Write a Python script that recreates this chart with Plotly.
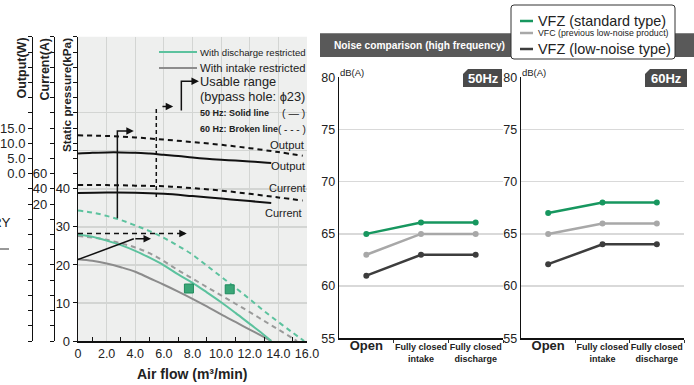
import plotly.graph_objects as go

W, H = 694, 385


def px(v):
    return v / W


def py(v):
    return 1 - v / H


# ---------------- Left: performance chart data ----------------
flow_50 = [0, 1, 2, 3, 4, 5, 6, 7, 8, 9, 10, 11, 12, 13, 13.5]
p_discharge_50 = [28.0, 27.4, 26.4, 25.2, 23.7, 21.9, 19.9, 17.5, 15.3, 12.8, 10.2, 7.4, 4.5, 1.6, 0.0]
p_intake_50 = [21.5, 21.1, 20.4, 19.4, 18.2, 16.5, 14.8, 13.0, 11.1, 9.1, 7.0, 5.0, 3.0, 1.0, 0.0]

flow_dis_60 = [0, 1, 2, 3, 4, 5, 6, 7, 8, 9, 10, 11, 12, 13, 14, 15, 15.8]
p_discharge_60 = [34.3, 33.8, 32.9, 31.8, 30.4, 28.9, 27.1, 25.0, 22.7, 19.8, 16.9, 14.0, 11.0, 7.9, 5.0, 2.2, 0.0]
flow_int_60 = [0, 1, 2, 3, 4, 5, 6, 7, 8, 9, 10, 11, 12, 13, 14, 15, 15.3]
p_intake_60 = [27.6, 27.2, 26.6, 25.7, 24.6, 23.1, 21.0, 18.6, 16.4, 14.2, 12.0, 9.8, 7.6, 5.3, 3.0, 0.7, 0.0]

flow_out_50 = [0, 1, 2, 3, 4, 5, 6, 7, 8, 9, 10, 11, 12, 13, 13.5]
output_50 = [6.6, 6.9, 7.0, 7.0, 6.9, 6.6, 6.2, 5.8, 5.3, 4.9, 4.6, 4.3, 4.0, 3.7, 3.5]
flow_out_60 = [0, 2, 4, 6, 8, 10, 12, 14, 15.7]
output_60 = [12.6, 12.4, 11.9, 11.2, 10.4, 9.5, 8.4, 7.1, 5.9]

flow_cur_50 = [0, 2, 4, 6, 8, 10, 12, 13.5]
current_50 = [34.5, 35.2, 35.0, 33.5, 30.5, 27.3, 24.0, 21.5]
flow_cur_60 = [0, 2, 4, 6, 8, 10, 12, 14, 15.7]
current_60 = [45.2, 45.0, 44.3, 43.4, 41.0, 37.8, 33.5, 28.8, 24.7]

# guide / usable-range arrows (air flow, static pressure)
guide_a_x = [0, 3.9]
guide_a_y = [21.4, 26.9]
guide_a_tip = 5.1
guide_b_x = [0, 7.2]
guide_b_y = [28.3, 28.3]
guide_b_tip = 7.6
guide_c_x = [2.75, 2.75, 3.5]
guide_c_y = [32.3, 55.2, 55.2]
guide_c_tip = 3.9
guide_d_x = [5.47, 5.47]
guide_d_y = [37.9, 61.7]
guide_d2_x = [5.9, 6.3]
guide_d_tip = 6.65
usable_x = [7.22, 7.22, 8.0]
usable_y = [60.6, 68.3, 68.3]
usable_tip = 8.45

square_x = [7.75, 10.6]
square_y = [13.8, 13.6]

flow_ticks = [0, 2, 4, 6, 8, 10, 12, 14, 16]
flow_labels = ["0", "2.0", "4.0", "6.0", "8.0", "10.0", "12.0", "14.0", "16.0"]
pressure_ticks = [0, 10, 20, 30, 40, 50, 60]
pressure_labels = ["0", "10", "20", "30", "40", "", ""]
pressure_minor = [44, 48, 52, 56, 64, 68, 72, 76, 80]
current_ticks = list(range(-160, 241, 20))
current_labels = [str(v) if v in (20, 40, 60) else "" for v in current_ticks]
output_ticks = list(range(-55, 46, 5))
output_labels = [f"{v:.1f}" if v in (0, 5, 10, 15) else "" for v in output_ticks]

# ---------------- Right: noise comparison data ----------------
noise_cats = ["Open", "Fully closed intake", "Fully closed discharge"]
noise_tick_text = [
    '<span style="font-size:13px">Open</span>',
    "Fully closed<br>intake",
    "Fully closed<br>discharge",
]
db_ticks = [55, 60, 65, 70, 75, 80]
vfz_std_50 = [65.0, 66.1, 66.1]
vfc_50 = [63.0, 65.0, 65.0]
vfz_low_50 = [61.0, 63.0, 63.0]
vfz_std_60 = [67.0, 68.0, 68.0]
vfc_60 = [65.0, 66.0, 66.0]
vfz_low_60 = [62.1, 64.0, 64.0]
series_names = ["VFZ (standard type)", "VFC (previous low-noise product)", "VFZ (low-noise type)"]

# ---------------- styles ----------------
REG = "Liberation Sans, Arial, Helvetica, sans-serif"
INK = "#222222"
G_LIGHT = "#5cc29e"
GR_LIGHT = "#8c8c8c"
G_DARK = "#17975f"
GR_MID = "#a8a8a8"
DARK = "#3d3d3d"
DASH = "5px,4px"

fig = go.Figure()


def left(x, y, color, dash=None, width=2, yaxis="y", shape="spline"):
    fig.add_trace(go.Scatter(x=x, y=y, mode="lines", xaxis="x", yaxis=yaxis,
                             line=dict(color=color, width=width, dash=dash, shape=shape),
                             hoverinfo="skip"))


left(flow_int_60, p_intake_60, "#9a9a9a", DASH)
left(flow_dis_60, p_discharge_60, G_LIGHT, DASH)
left(flow_50, p_intake_50, GR_LIGHT)
left(flow_50, p_discharge_50, G_LIGHT)
left(flow_out_50, output_50, "#111111", yaxis="y3")
left(flow_out_60, output_60, "#111111", DASH, yaxis="y3")
left(flow_cur_50, current_50, "#111111", yaxis="y2")
left(flow_cur_60, current_60, "#111111", DASH, yaxis="y2")
left(guide_a_x, guide_a_y, "#111111", width=1.5, shape="linear")
left(guide_b_x, guide_b_y, "#111111", DASH, width=1.5, shape="linear")
left(guide_c_x, guide_c_y, "#111111", width=1.5, shape="linear")
left(guide_d_x, guide_d_y, "#111111", "4px,3px", width=1.5, shape="linear")
left(guide_d2_x, [guide_d_y[1]] * 2, "#111111", width=1.5, shape="linear")
left(usable_x, usable_y, "#111111", width=1.5, shape="linear")

fig.add_trace(go.Scatter(x=square_x, y=square_y, mode="markers", xaxis="x", yaxis="y",
                         marker=dict(symbol="square", size=9, color="#3aa677",
                                     line=dict(color="#1f8a5c", width=1)),
                         hoverinfo="skip"))

# right panels
xs = list(range(len(noise_cats)))
for axn, data in (("2", (vfz_std_50, vfc_50, vfz_low_50)), ("3", (vfz_std_60, vfc_60, vfz_low_60))):
    for vals, col in zip(data, (G_DARK, GR_MID, DARK)):
        fig.add_trace(go.Scatter(x=xs, y=vals, mode="lines+markers", xaxis="x" + axn,
                                 yaxis="y" + ("4" if axn == "2" else "5"),
                                 line=dict(color=col, width=2.5),
                                 marker=dict(color=col, size=6), hoverinfo="skip"))

axis_common = dict(showline=True, linecolor="#111111", zeroline=False, fixedrange=True,
                   automargin=False)

layout = dict(
    width=W, height=H, margin=dict(l=0, r=0, t=0, b=0, autoexpand=False),
    paper_bgcolor="white", plot_bgcolor="white", showlegend=False,
    font=dict(family=REG, color=INK, size=12),
    xaxis=dict(domain=[px(78), px(307)], range=[0, 16], anchor="y",
               tickvals=flow_ticks, ticktext=flow_labels, ticks="", tickangle=0,
               tickfont=dict(size=12.5, family=REG),
               showgrid=True, gridcolor="#d3d5d3", gridwidth=1.2,
               minor=dict(tickvals=[1, 3, 5, 7, 9, 11, 13, 15], ticks="inside", ticklen=4,
                          tickcolor="#111", showgrid=False),
               linewidth=1.5, **axis_common),
    yaxis=dict(domain=[py(341), py(36.8)], range=[0, 80], anchor="x",
               tickvals=pressure_ticks, ticktext=pressure_labels, ticks="outside", ticklen=4,
               tickcolor="#111", tickfont=dict(size=13, family=REG),
               showgrid=True, gridcolor="#d3d5d3", gridwidth=1.2,
               minor=dict(tickvals=pressure_minor, ticks="outside", ticklen=4, tickcolor="#111",
                          showgrid=False),
               linewidth=1.3, **axis_common),
    yaxis2=dict(overlaying="y", anchor="free", position=px(53.8), side="left", range=[-160, 240],
                tickvals=current_ticks, ticktext=current_labels, ticks="outside", ticklen=4,
                tickcolor="#111", tickfont=dict(size=13, family=REG), showgrid=False,
                linewidth=1.3, **axis_common),
    yaxis3=dict(overlaying="y", anchor="free", position=px(32), side="left", range=[-55, 45],
                tickvals=output_ticks, ticktext=output_labels, ticks="outside", ticklen=4,
                tickcolor="#111", tickfont=dict(size=13, family=REG), showgrid=False,
                linewidth=1.3, **axis_common),
)

for xa, ya, dom in (("xaxis2", "yaxis4", [px(339), px(503)]), ("xaxis3", "yaxis5", [px(521), px(684)])):
    layout[xa] = dict(domain=dom, range=[-0.5, 2.5], anchor="y" + ya[-1],
                      tickvals=xs, ticktext=noise_tick_text, ticks="", tickangle=0,
                      tickfont=dict(family=REG, size=9, weight="bold", color=INK),
                      showgrid=False, linewidth=1.3,
                      minor=dict(tickvals=[0.5, 1.5, 2.5], ticks="outside", ticklen=3,
                                 tickcolor="#333"),
                      **axis_common)
    layout[ya] = dict(domain=[py(338.3), py(77.3)], range=[55, 80], anchor="x" + xa[-1],
                      tickvals=db_ticks, ticks="", tickfont=dict(size=12.5, family=REG),
                      showgrid=True, gridcolor="#d9d9d9", gridwidth=1.5, linewidth=1.3,
                      **axis_common)

fig.update_layout(**layout)

shapes = []
annotations = []

# left chart background
shapes.append(dict(type="rect", xref="x domain", yref="y domain", x0=0, x1=1, y0=0, y1=1,
                   fillcolor="#eeefee", line=dict(width=0), layer="below"))
# legend sample lines (left)
shapes.append(dict(type="line", xref="paper", yref="paper", x0=px(159), x1=px(197), y0=py(52), y1=py(52),
                   line=dict(color=G_LIGHT, width=2)))
shapes.append(dict(type="line", xref="paper", yref="paper", x0=px(159), x1=px(197), y0=py(68), y1=py(68),
                   line=dict(color=GR_LIGHT, width=2)))
# cropped fragment on far left
shapes.append(dict(type="line", xref="paper", yref="paper", x0=0, x1=px(9), y0=py(249), y1=py(249),
                   line=dict(color="#333", width=1)))

# right: title bar
shapes.append(dict(type="rect", xref="paper", yref="paper", x0=px(320), x1=1, y0=py(57), y1=py(33.3),
                   fillcolor="#595959", line=dict(width=0)))


def rounded(x0, y0, x1, y1, r):
    return (f"M{px(x0 + r)},{py(y0)} L{px(x1 - r)},{py(y0)} Q{px(x1)},{py(y0)} {px(x1)},{py(y0 + r)} "
            f"L{px(x1)},{py(y1 - r)} Q{px(x1)},{py(y1)} {px(x1 - r)},{py(y1)} "
            f"L{px(x0 + r)},{py(y1)} Q{px(x0)},{py(y1)} {px(x0)},{py(y1 - r)} "
            f"L{px(x0)},{py(y0 + r)} Q{px(x0)},{py(y0)} {px(x0 + r)},{py(y0)} Z")


shapes.append(dict(type="path", xref="paper", yref="paper", path=rounded(511, 5, 675, 59, 3),
                   fillcolor="white", line=dict(color="#333", width=1)))
for yy, col in ((21, G_DARK), (33, GR_MID), (49, DARK)):
    shapes.append(dict(type="line", xref="paper", yref="paper", x0=px(520), x1=px(533), y0=py(yy), y1=py(yy),
                       line=dict(color=col, width=2.5)))


def badge(x0, x1):
    y0, y1, c = 69, 87, 5
    return (f"M{px(x0 + c)},{py(y0)} L{px(x1)},{py(y0)} L{px(x1)},{py(y1)} "
            f"L{px(x0)},{py(y1)} L{px(x0)},{py(y0 + c)} Z")


shapes.append(dict(type="path", xref="paper", yref="paper", path=badge(463, 502),
                   fillcolor="#4a4a4a", line=dict(width=0)))
shapes.append(dict(type="path", xref="paper", yref="paper", path=badge(645, 687),
                   fillcolor="#4a4a4a", line=dict(width=0)))


def txt(text, x, y, size=12, family=REG, anchor="left", color=INK, weight="normal", angle=0, yanchor="middle"):
    annotations.append(dict(text=text, x=px(x), y=py(y), xref="paper", yref="paper",
                            xanchor=anchor, yanchor=yanchor, showarrow=False, textangle=angle,
                            borderpad=0, font=dict(size=size, family=family, color=color, weight=weight)))


# left texts
txt("With discharge restricted", 199, 52, 9.6)
txt("With intake restricted", 199, 68, 11.3)
txt("Usable range", 199, 82, 12.8)
txt("(bypass hole: ϕ23)", 199, 97, 12.8)
txt("50 Hz: Solid line", 199, 113, 9, weight="bold")
txt("( — )", 306, 113, 10.5, anchor="right")
txt("60 Hz: Broken line", 199, 129, 9, weight="bold")
txt("( - - - )", 307, 129, 10, anchor="right")
txt("Output", 306, 145, 11.3, anchor="right")
txt("Output", 307, 166, 11.3, anchor="right")
txt("Current", 307, 188, 11, anchor="right")
txt("Current", 303, 213, 11, anchor="right")
txt("<b>Static pressure(kPa)</b>", 67, 37, 11.8, anchor="center", angle=-90, yanchor="top")
txt("<b>Current(A)</b>", 44, 37, 12.5, anchor="center", angle=-90, yanchor="top")
txt("<b>Output(W)</b>", 21, 37, 12.5, anchor="center", angle=-90, yanchor="top")
txt("<b>Air flow (m³/min)</b>", 192, 374, 14, anchor="center")
txt("RY", 12, 222, 13.5, anchor="right")

# right texts
txt("Noise comparison (high frequency)", 333, 45, 10.2, color="white", weight="bold")
txt(series_names[0], 537, 21, 14.4)
txt(series_names[1], 537, 33.5, 8.8)
txt(series_names[2], 537, 49, 14.4)
txt("50Hz", 483, 78.5, 13, anchor="center", color="white", weight="bold")
txt("60Hz", 666, 78.5, 13, anchor="center", color="white", weight="bold")
txt("dB(A)", 339, 73, 9.5)
txt("dB(A)", 521, 73, 9.5)

# arrowheads (left)
for tip_x, tip_y, tail_x in ((guide_a_tip, guide_a_y[1], guide_a_x[1]),
                             (guide_b_tip, guide_b_y[1], guide_b_x[1]),
                             (guide_c_tip, guide_c_y[2], guide_c_x[2]),
                             (guide_d_tip, guide_d_y[1], guide_d2_x[1]),
                             (usable_tip, usable_y[2], usable_x[2])):
    annotations.append(dict(x=tip_x, y=tip_y, ax=tail_x, ay=tip_y, xref="x", yref="y",
                            axref="x", ayref="y", showarrow=True, arrowhead=2, arrowsize=1,
                            arrowwidth=1.5, arrowcolor="#111", text=""))

fig.update_layout(shapes=shapes, annotations=annotations)
fig.write_html("out.html", config={"displayModeBar": False, "staticPlot": True},
               post_script="document.body.style.margin='0';document.body.style.padding='0';"
                           "document.documentElement.style.overflow='hidden';")
